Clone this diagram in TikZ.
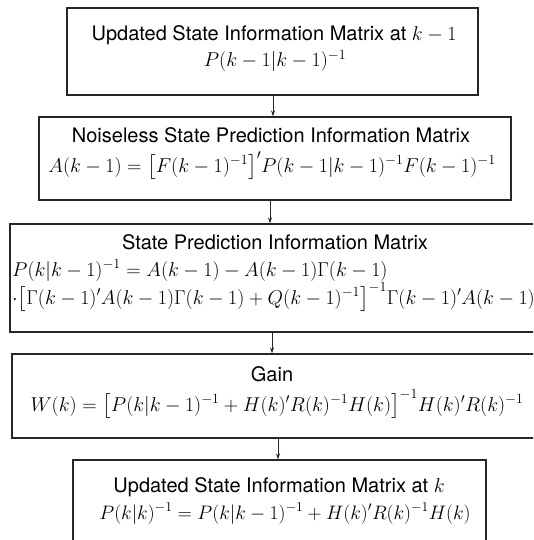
\RequirePackage{fix-cm}
\documentclass[tikz,border=0pt]{standalone}
\usepackage{amsmath}
\usepackage{fontspec}
\setmainfont{TeX Gyre Heros}
\usetikzlibrary{arrows.meta}
\tikzset{
  box/.style={draw=black!85, line width=1.1pt, rectangle, inner sep=0pt},
  ttl/.style={anchor=base, inner sep=0pt, font=\fontsize{20}{24}\selectfont},
  eqn/.style={anchor=base, inner sep=0pt, font=\fontsize{20}{24}\selectfont},
  eqs/.style={anchor=base, inner sep=0pt, font=\fontsize{19.5}{23}\selectfont},
  arr/.style={draw=black!85, line width=0.8pt, -{Stealth[length=6pt,width=4pt]}}
}
\begin{document}
\begin{tikzpicture}[x=1pt,y=1pt]
\useasboundingbox (0,0) rectangle (533,-540);
\clip (0,0) rectangle (533,-540);
% boxes
\node[box, minimum width=411pt, minimum height=87pt] (b1) at (272.5,-51.5) {};
\node[box, minimum width=472pt, minimum height=83pt] (b2) at (275,-158.5) {};
\node[box, minimum width=550pt, minimum height=108pt] (b3) at (285,-278) {};
\node[box, minimum width=548pt, minimum height=84pt] (b4) at (286,-396) {};
\node[box, minimum width=413pt, minimum height=100pt] (b5) at (279.5,-510) {};
% texts
\node[ttl] (t1) at (274,-41) {Updated State Information Matrix at $k-1$};
\node[eqn] (e1) at (275,-67) {$P(k-1|k-1)^{-1}$};
\node[ttl] (t2) at (271,-143) {Noiseless State Prediction Information Matrix};
\node[eqn] (e2) at (272,-172) {$A(k-1)=\bigl[F(k-1)^{-1}\bigr]'P(k-1|k-1)^{-1}F(k-1)^{-1}$};
\node[ttl] (t3) at (275,-249) {State Prediction Information Matrix};
\node[eqn, anchor=base west] (e3a) at (12,-276) {$P(k|k-1)^{-1}=A(k-1)-A(k-1)\Gamma(k-1)$};
\node[eqn, anchor=base west] (e3b) at (12,-304) {$\cdot\bigl[\Gamma(k-1)'A(k-1)\Gamma(k-1)+Q(k-1)^{-1}\bigr]^{-1}\Gamma(k-1)'A(k-1)$};
\node[ttl] (t4) at (272,-381) {Gain};
\node[eqn] (e4) at (277,-411) {$W(k)=\bigl[P(k|k-1)^{-1}+H(k)'R(k)^{-1}H(k)\bigr]^{-1}H(k)'R(k)^{-1}$};
\node[ttl] (t5) at (279,-492) {Updated State Information Matrix at $k$};
\node[eqs] (e5) at (285,-519) {$P(k|k)^{-1}=P(k|k-1)^{-1}+H(k)'R(k)^{-1}H(k)$};
% arrows
\draw[arr] ([xshift=0.5pt]b1.south) -- ([xshift=0.5pt]b1.south |- b2.north);
\draw[arr] ([xshift=-5pt]b2.south) -- ([xshift=-5pt]b2.south |- b3.north);
\draw[arr] ([xshift=-13pt]b3.south) -- ([xshift=-13pt]b3.south |- b4.north);
\draw[arr] ([xshift=-8pt]b4.south) -- ([xshift=-8pt]b4.south |- b5.north);
\end{tikzpicture}
\end{document}
